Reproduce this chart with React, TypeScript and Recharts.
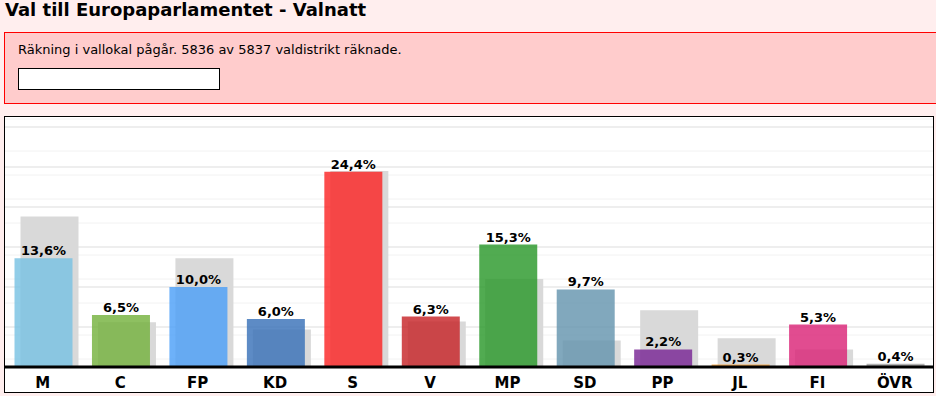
import React from 'react';
import { BarChart, Bar, XAxis, YAxis, CartesianGrid, Cell, LabelList } from 'recharts';

const categories = ['M', 'C', 'FP', 'KD', 'S', 'V', 'MP', 'SD', 'PP', 'JL', 'FI', 'ÖVR'];
const current = [13.6, 6.5, 10.0, 6.0, 24.4, 6.3, 15.3, 9.7, 2.2, 0.3, 5.3, 0.4];
const previous = [18.8, 5.6, 13.6, 4.7, 24.5, 5.7, 11.0, 3.3, 7.1, 3.6, 2.2, 0.2];
const partyColors = [
  '#75C0E2', '#72B03A', '#499EF8', '#346EB6', '#FB2020', '#C51F23',
  '#269626', '#6292AC', '#762092', '#F89E30', '#D91F74', '#9F9F9F',
];
const majorGrid = [5, 10, 15, 20, 25, 30];
const minorGrid = [1, 2, 3, 4, 6, 7, 8, 9, 11, 12, 13, 14, 16, 17, 18, 19, 21, 22, 23, 24, 26, 27, 28, 29, 31];

const titleText = 'Val till Europaparlamentet - Valnatt';
const infoText = 'Räkning i vallokal pågår. 5836 av 5837 valdistrikt räknade.';

const data = categories.map((c, i) => ({ party: c, current: current[i], previous: previous[i] }));

const fmt = (v: any) => Number(v).toFixed(1).replace('.', ',') + '%';

export default function App() {
  return (
    <div
      style={{
        position: 'absolute',
        left: 0,
        top: 0,
        width: 936,
        height: 396,
        background: '#FFEEEE',
        overflow: 'hidden',
        fontFamily: '"DejaVu Sans", Verdana, sans-serif',
      }}
    >
      <div
        style={{
          position: 'absolute',
          left: 5,
          top: 0,
          fontSize: 18,
          fontWeight: 'bold',
          lineHeight: '20px',
          color: '#000',
          whiteSpace: 'nowrap',
        }}
      >
        {titleText}
      </div>
      <div
        style={{
          position: 'absolute',
          left: 4,
          top: 32,
          width: 940,
          height: 72,
          boxSizing: 'border-box',
          border: '1px solid #FF0000',
          background: '#FFCCCC',
        }}
      />
      <div
        style={{
          position: 'absolute',
          left: 18,
          top: 42,
          fontSize: 13,
          lineHeight: '15px',
          color: '#000',
          whiteSpace: 'nowrap',
        }}
      >
        {infoText}
      </div>
      <div
        style={{
          position: 'absolute',
          left: 18,
          top: 68,
          width: 202,
          height: 22,
          boxSizing: 'border-box',
          border: '1px solid #000',
          background: '#FFFFFF',
        }}
      />
      <div
        style={{
          position: 'absolute',
          left: 4,
          top: 116,
          width: 930,
          height: 277,
          boxSizing: 'border-box',
          border: '1px solid #000',
          background: '#FFFFFF',
          overflow: 'hidden',
        }}
      >
        <div style={{ position: 'absolute', left: -5, top: 0 }}>
          <BarChart
            width={937}
            height={275}
            data={data}
            margin={{ top: 0, right: 0, bottom: 0, left: 0 }}
            barGap={-64}
          >
            <CartesianGrid vertical={false} horizontalValues={minorGrid} stroke="#F2F2F2" strokeWidth={1} />
            <CartesianGrid vertical={false} horizontalValues={majorGrid} stroke="#DDDDDD" strokeWidth={1} />
            <XAxis
              dataKey="party"
              height={25}
              padding={{ left: 7.5, right: 0 }}
              axisLine={{ stroke: '#000', strokeWidth: 3 }}
              tickLine={false}
              tickMargin={4}
              interval={0}
              tick={{ fill: '#000', fontSize: 15, fontWeight: 'bold', fontFamily: '"DejaVu Sans", Verdana, sans-serif', dx: -3.5 }}
            />
            <YAxis hide domain={[0, 31.25]} allowDataOverflow />
            <Bar dataKey="previous" fill="#D9D9D9" barSize={58} isAnimationActive={false} />
            <Bar dataKey="current" barSize={58} isAnimationActive={false}>
              {data.map((d, i) => (
                <Cell key={d.party} fill={partyColors[i]} fillOpacity={0.8} />
              ))}
              <LabelList
                dataKey="current"
                position="top"
                offset={3}
                formatter={fmt}
                style={{ fill: '#000', fontSize: 13, fontWeight: 'bold', fontFamily: '"DejaVu Sans", Verdana, sans-serif' }}
              />
            </Bar>
          </BarChart>
        </div>
      </div>
    </div>
  );
}
